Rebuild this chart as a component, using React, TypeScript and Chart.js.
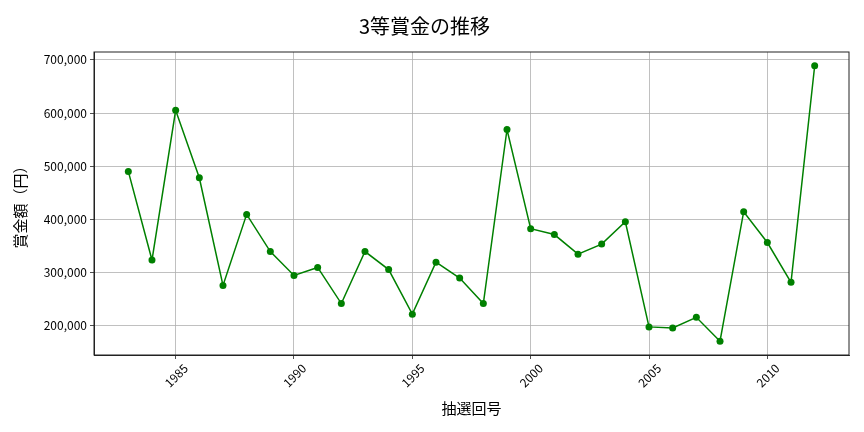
import { useEffect, useRef } from 'react';
import { Chart, registerables } from 'chart.js';

Chart.register(...registerables);

const years = [
  1983, 1984, 1985, 1986, 1987, 1988, 1989, 1990, 1991, 1992,
  1993, 1994, 1995, 1996, 1997, 1998, 1999, 2000, 2001, 2002,
  2003, 2004, 2005, 2006, 2007, 2008, 2009, 2010, 2011, 2012,
];
const prizes = [
  490000, 323000, 605000, 478000, 275000, 409000, 339000, 294000, 309000, 241000,
  339000, 305000, 221000, 319000, 289000, 241000, 569000, 382000, 371000, 334000,
  353000, 395000, 197000, 195000, 215000, 170000, 414000, 356000, 281000, 689000,
];
const xTicks = [1985, 1990, 1995, 2000, 2005, 2010];
const yTicks = [200000, 300000, 400000, 500000, 600000, 700000];

const FONT = '"Noto Sans CJK JP", "Noto Sans", sans-serif';

// matplotlib-style frame around the plot area
const framePlugin = {
  id: 'frame',
  afterDraw(chart: Chart) {
    const { ctx, chartArea } = chart;
    ctx.save();
    ctx.strokeStyle = '#222';
    ctx.lineWidth = 1;
    ctx.strokeRect(chartArea.left, chartArea.top, chartArea.right - chartArea.left, chartArea.bottom - chartArea.top);
    ctx.restore();
  },
};

export default function App() {
  const canvasRef = useRef<HTMLCanvasElement>(null);

  useEffect(() => {
    if (!canvasRef.current) return;
    const xMargin = (years[years.length - 1] - years[0]) * 0.05;
    const yMin = Math.min(...prizes);
    const yMax = Math.max(...prizes);
    const yMargin = (yMax - yMin) * 0.05;

    const chart = new Chart(canvasRef.current, {
      type: 'line',
      data: {
        datasets: [{
          data: years.map((y, i) => ({ x: y, y: prizes[i] })),
          borderColor: '#008000',
          backgroundColor: '#008000',
          borderWidth: 1.5,
          pointRadius: 3.5,
          pointBorderWidth: 0,
          tension: 0,
        }],
      },
      options: {
        animation: false,
        responsive: false,
        devicePixelRatio: 1,
        layout: { padding: { left: 0, right: 15, top: 0, bottom: 0 } },
        plugins: {
          legend: { display: false },
          tooltip: { enabled: false },
          title: {
            display: true,
            text: '3等賞金の推移',
            color: '#000',
            font: { family: FONT, size: 20, weight: 'normal' },
            padding: { top: 14, bottom: 14 },
          },
        },
        scales: {
          x: {
            type: 'linear',
            min: years[0] - xMargin,
            max: years[years.length - 1] + xMargin,
            afterBuildTicks: (scale: any) => { scale.ticks = xTicks.map(v => ({ value: v })); },
            afterFit: (scale: any) => { scale.height = 77; },
            grid: { color: '#b0b0b0', tickColor: '#222', tickLength: 4, lineWidth: 0.8 },
            border: { color: '#222' },
            ticks: {
              color: '#000',
              font: { family: FONT, size: 12 },
              minRotation: 45,
              maxRotation: 45,
              padding: 2,
              labelOffset: 10,
              callback: (v: any) => String(v),
            },
            title: {
              display: true,
              text: '抽選回号',
              color: '#000',
              font: { family: FONT, size: 15 },
              padding: { top: 0, bottom: 15 },
            },
          },
          y: {
            type: 'linear',
            min: yMin - yMargin,
            max: yMax + yMargin,
            afterBuildTicks: (scale: any) => { scale.ticks = yTicks.map(v => ({ value: v })); },
            afterFit: (scale: any) => { scale.width = 94; },
            grid: { color: '#b0b0b0', tickColor: '#222', tickLength: 4, lineWidth: 0.8 },
            border: { color: '#222' },
            ticks: {
              color: '#000',
              font: { family: FONT, size: 12 },
              padding: 3,
              callback: (v: any) => Number(v).toLocaleString('en-US'),
            },
            title: {
              display: true,
              text: '賞金額（円）',
              color: '#000',
              font: { family: FONT, size: 15 },
              padding: { top: 11, bottom: 0 },
            },
          },
        },
      },
      plugins: [framePlugin],
    });

    return () => chart.destroy();
  }, []);

  return (
    <div style={{ position: 'fixed', left: 0, top: 0, width: 864, height: 432, background: '#fff' }}>
      <canvas ref={canvasRef} width={864} height={432} />
    </div>
  );
}
